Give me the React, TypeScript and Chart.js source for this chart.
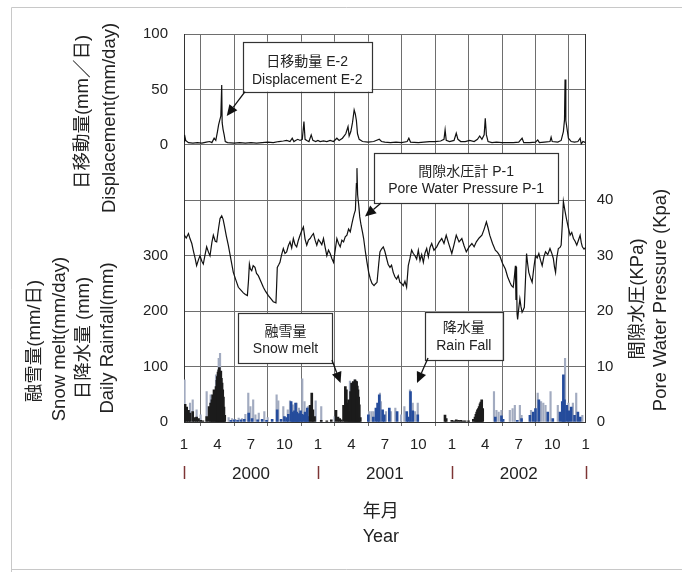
import React, { useEffect, useRef } from "react";
import { Chart, registerables } from "chart.js";

Chart.register(...registerables);

// ---------- data (x = months since 2000-01-01) ----------
const quarterLabels = ["1", "4", "7", "10"];
const yearLabels = ["2000", "2001", "2002"];
const leftTickLabels = ["0", "100", "200", "300", "", "0", "50", "100"];
const rightTickLabels = ["0", "10", "20", "30", "40", "", "", ""];

// Pore water pressure P-1 (kPa)
const pressure: [number, number][] = [
  [0, 33.8], [0.2, 33.2], [0.4, 34.0], [0.55, 33.0], [0.7, 32.2], [0.85, 30.8], [1.0, 29.5], [1.13, 28.2],
  [1.3, 29.3], [1.43, 30.0], [1.6, 29.0], [1.73, 28.5], [1.85, 29.8], [2.03, 31.6], [2.2, 30.6], [2.33, 30.0],
  [2.5, 32.4], [2.63, 33.7], [2.8, 32.6], [2.93, 32.5], [3.1, 35.0], [3.23, 36.7], [3.38, 37.2], [3.5, 36.6],
  [3.61, 35.5], [3.8, 33.5], [3.97, 31.9], [4.2, 29.4], [4.42, 27.0], [4.65, 25.6], [4.87, 24.3], [5.1, 23.8],
  [5.32, 23.3], [5.5, 23.0], [5.68, 22.8], [5.78, 25.5], [5.86, 28.5], [5.95, 27.6], [6.07, 27.3], [6.2, 28.2],
  [6.36, 27.9], [6.5, 26.8], [6.66, 26.4], [6.9, 25.3], [7.11, 24.3], [7.3, 23.6], [7.56, 22.8], [7.8, 22.2],
  [8.0, 21.7], [8.24, 21.5], [8.3, 24.5], [8.36, 27.9], [8.5, 28.4], [8.6, 28.8], [8.75, 30.2], [8.9, 31.3],
  [9.05, 30.4], [9.2, 30.7], [9.35, 31.8], [9.5, 32.5], [9.65, 31.4], [9.8, 33.1], [9.95, 32.0], [10.1, 31.6],
  [10.25, 32.8], [10.4, 33.7], [10.55, 34.5], [10.7, 35.2], [10.85, 33.0], [11.0, 31.9], [11.15, 32.8], [11.3, 33.1],
  [11.45, 33.6], [11.6, 34.0], [11.75, 32.8], [11.9, 31.9], [12.05, 32.9], [12.2, 32.5], [12.35, 32.0], [12.5, 33.1],
  [12.65, 31.5], [12.8, 30.0], [12.95, 31.0], [13.1, 30.4], [13.25, 29.5], [13.4, 28.8], [13.55, 31.0], [13.7, 33.1],
  [13.85, 32.2], [14.0, 31.6], [14.15, 32.8], [14.3, 32.5], [14.45, 33.4], [14.6, 33.7], [14.75, 34.8], [14.9, 34.3],
  [15.05, 35.8], [15.15, 36.7], [15.25, 37.5], [15.36, 38.2], [15.45, 43.0], [15.5, 45.8], [15.56, 41.0], [15.66, 39.1],
  [15.75, 37.0], [15.87, 35.5], [16.0, 34.2], [16.1, 33.1], [16.25, 30.8], [16.4, 28.8], [16.55, 27.0], [16.7, 25.8],
  [16.85, 25.0], [17.03, 24.6], [17.15, 24.9], [17.3, 25.2], [17.45, 28.5], [17.56, 30.7], [17.7, 31.2], [17.86, 31.6],
  [18.0, 30.8], [18.16, 29.5], [18.3, 28.4], [18.46, 27.9], [18.6, 28.3], [18.75, 27.0], [18.9, 26.2], [19.05, 25.8],
  [19.2, 26.4], [19.35, 25.2], [19.5, 25.0], [19.65, 24.6], [19.8, 25.4], [19.95, 24.3], [20.1, 28.2], [20.25, 29.5],
  [20.4, 31.0], [20.55, 30.4], [20.7, 30.0], [20.85, 29.4], [21.0, 31.0], [21.15, 29.1], [21.3, 30.2], [21.45, 28.8],
  [21.6, 30.5], [21.75, 31.3], [21.9, 29.8], [22.05, 31.5], [22.2, 32.2], [22.4, 31.0], [22.65, 31.6], [22.85, 32.4],
  [23.1, 33.1], [23.3, 32.2], [23.5, 33.7], [23.75, 32.0], [24.0, 30.4], [24.2, 32.0], [24.4, 33.7], [24.65, 32.5],
  [24.9, 33.1], [25.1, 31.8], [25.3, 30.7], [25.55, 31.6], [25.8, 32.2], [26.0, 31.6], [26.2, 32.5], [26.45, 33.2],
  [26.7, 33.7], [26.9, 34.8], [27.1, 36.1], [27.25, 35.0], [27.4, 33.7], [27.65, 32.2], [27.9, 31.0], [28.1, 30.6],
  [28.3, 30.0], [28.55, 28.6], [28.8, 27.6], [29.0, 26.2], [29.2, 25.2], [29.35, 24.6], [29.5, 24.3], [29.6, 26.0],
  [29.7, 28.2], [29.75, 22.0], [29.8, 28.0], [29.85, 19.5], [29.9, 18.5], [30.0, 20.5], [30.1, 22.2], [30.2, 20.8],
  [30.3, 19.8], [30.4, 20.2], [30.5, 20.7], [30.6, 25.5], [30.7, 30.4], [30.8, 28.5], [30.9, 27.0], [31.05, 26.0],
  [31.2, 25.2], [31.35, 27.8], [31.5, 30.0], [31.65, 29.6], [31.8, 30.4], [31.95, 29.2], [32.1, 28.2], [32.25, 29.8],
  [32.4, 30.7], [32.6, 30.2], [32.8, 31.3], [32.95, 30.5], [33.1, 29.5], [33.2, 28.0], [33.3, 27.0], [33.4, 29.5],
  [33.55, 31.3], [33.7, 31.5], [33.8, 31.9], [33.9, 35.5], [34.0, 39.8], [34.15, 38.0], [34.3, 36.4], [34.45, 35.0],
  [34.6, 33.7], [34.75, 34.2], [34.9, 33.1], [35.05, 32.6], [35.2, 31.9], [35.35, 32.8], [35.5, 33.7], [35.6, 32.4],
  [35.7, 31.6], [35.85, 31.2], [36.0, 31.5],
];

// Daily displacement E-2 (mm/day)
const displacement: [number, number][] = [
  [0, 3], [0.05, 9], [0.15, 4], [0.4, 2], [0.8, 1.5], [1.2, 2], [1.6, 1.5], [2.0, 2.5], [2.3, 3], [2.5, 2],
  [2.7, 6], [2.85, 4], [3.0, 12], [3.1, 18], [3.2, 22], [3.3, 26], [3.38, 54], [3.42, 20], [3.5, 14], [3.6, 9],
  [3.7, 3], [3.9, 2], [4.5, 1.5], [5.0, 2], [5.5, 1.5], [6.0, 2], [6.5, 1.5], [7.0, 2], [7.5, 2.5], [8.0, 2],
  [8.5, 3], [8.9, 3.5], [9.2, 4], [9.5, 3], [9.7, 6], [9.85, 3], [10.0, 4], [10.2, 5], [10.4, 4], [10.6, 5],
  [10.75, 21], [10.85, 5], [11.0, 4], [11.2, 3], [11.4, 9], [11.55, 4], [11.8, 3], [12.0, 4], [12.2, 3], [12.5, 3.5],
  [12.8, 3], [13.1, 4], [13.4, 3], [13.7, 6], [13.9, 4], [14.2, 6], [14.5, 10], [14.7, 16.5], [14.8, 8], [14.95, 12],
  [15.1, 20], [15.25, 31.5], [15.35, 28], [15.45, 22], [15.55, 10], [15.7, 5], [16.0, 3], [16.5, 2.5], [17.0, 3], [17.5, 5],
  [17.7, 3], [18.0, 2.5], [18.5, 2], [19.0, 2.5], [19.5, 2], [20.0, 3], [20.15, 6], [20.3, 2.5], [21.0, 2], [21.5, 2.5],
  [22.0, 3], [22.5, 3], [23.0, 3.5], [23.3, 5], [23.4, 13.5], [23.5, 4], [23.8, 3], [24.2, 4], [24.4, 10.5], [24.55, 5],
  [24.8, 3], [25.2, 3], [25.6, 4], [26.0, 3], [26.3, 5], [26.5, 8], [26.7, 5], [26.9, 9], [27.0, 24], [27.1, 9],
  [27.25, 3], [27.6, 2], [28.0, 2.5], [28.5, 2], [29.0, 2], [29.5, 2], [30.0, 2.5], [30.3, 6], [30.45, 2], [31.0, 2],
  [31.5, 2.5], [31.7, 4.5], [31.85, 2], [32.3, 2.5], [32.8, 3], [32.9, 7], [33.0, 3], [33.5, 2.5], [33.8, 4], [34.0, 12],
  [34.1, 22.5], [34.15, 59], [34.22, 22], [34.32, 15], [34.45, 6], [34.7, 3], [35.0, 2.5], [35.3, 3], [35.5, 6], [35.6, 1],
  [35.75, 3], [36, 2],
];

// Snow melt (mm/day)
const snowMelt: [number, number][] = [
  [0.02, 30], [0.1, 32], [0.24, 27], [0.4, 21], [0.54, 16], [0.78, 19], [0.95, 8], [1.13, 9], [1.3, 6], [1.5, 3],
  [1.7, 2], [2.03, 10], [2.25, 28], [2.39, 34], [2.5, 40], [2.57, 49], [2.69, 58], [2.78, 52], [2.87, 64], [2.95, 75],
  [2.99, 82], [3.05, 90], [3.11, 94], [3.17, 98], [3.23, 88], [3.3, 92], [3.35, 79], [3.41, 70], [3.47, 58], [3.53, 45],
  [3.58, 27], [3.65, 12],
  [11.3, 30], [11.45, 52], [11.55, 22], [11.7, 10],
  [12.3, 3], [12.8, 2], [13.2, 4], [13.62, 21], [13.8, 9], [13.95, 6], [14.1, 4], [14.3, 30], [14.46, 64], [14.55, 58],
  [14.67, 34], [14.75, 40], [14.84, 19], [14.93, 55], [15.02, 70], [15.1, 68], [15.17, 73], [15.25, 70], [15.32, 76], [15.4, 74],
  [15.47, 73], [15.53, 65], [15.59, 58], [15.65, 45], [15.71, 31], [15.8, 8],
  [23.39, 12.6], [23.5, 6],
  [24.0, 3], [24.2, 2], [24.4, 4], [24.6, 3], [24.8, 3], [25.0, 2], [25.2, 2], [25.5, 2], [25.93, 5], [26.08, 9],
  [26.16, 14], [26.23, 18], [26.3, 22], [26.38, 24], [26.45, 28], [26.53, 33], [26.6, 36], [26.68, 40], [26.77, 24],
];

// Daily rainfall (mm)
const rainfall: [number, number][] = [
  [4.2, 3], [4.5, 4], [4.8, 3], [5.1, 4], [5.4, 5], [5.8, 16], [6.1, 6], [6.6, 4], [7.0, 5], [7.4, 3],
  [7.9, 5], [8.35, 22], [8.7, 5], [9.0, 10], [9.2, 8], [9.35, 14], [9.6, 37], [9.7, 18], [9.8, 16], [9.9, 20],
  [10.0, 34], [10.1, 18], [10.2, 13], [10.3, 15], [10.45, 20], [10.55, 14], [10.7, 13], [10.85, 18], [10.95, 12], [11.05, 25],
  [11.2, 10],
  [16.52, 13], [16.97, 9], [17.2, 25], [17.35, 34], [17.5, 49], [17.8, 22], [17.95, 13], [18.4, 25], [19.1, 19], [19.96, 19],
  [20.1, 9], [20.3, 55], [20.5, 20], [20.95, 13],
  [27.9, 9], [28.45, 11], [28.6, 5], [29.87, 3], [30.25, 6], [31.0, 12], [31.3, 18], [31.5, 24], [31.8, 40], [32.6, 18],
  [33.05, 6], [33.7, 18], [33.9, 37], [34.0, 85], [34.1, 40], [34.3, 30], [34.5, 20], [34.7, 27], [35.0, 12], [35.3, 18],
  [35.5, 9],
];

// Total precipitation (mm), light bars
const precipitation: [number, number][] = [
  [0.05, 76], [0.54, 34], [0.78, 40], [1.13, 22], [1.49, 13], [2.03, 55], [2.39, 49], [2.87, 85], [3.11, 115], [3.23, 124],
  [4.0, 8], [4.3, 6], [4.6, 5], [4.9, 7], [5.2, 6], [5.5, 14], [5.76, 52], [5.95, 28], [6.2, 40], [6.4, 13],
  [6.7, 16], [7.2, 19], [7.5, 8], [8.3, 49], [8.45, 38], [8.9, 28], [9.3, 22], [9.5, 38], [9.75, 31], [10.1, 34],
  [10.3, 25], [10.6, 78], [10.8, 37], [11.1, 28], [11.8, 38], [12.3, 28],
  [13.5, 10], [14.87, 74], [15.32, 76], [16.6, 19], [16.8, 19], [16.97, 19], [17.56, 52], [17.65, 37], [18.1, 19], [18.55, 19],
  [18.94, 25], [19.45, 13], [19.75, 28], [20.25, 58], [20.5, 34], [20.7, 19], [20.95, 34],
  [27.78, 55], [28.0, 21], [28.2, 18], [28.45, 21], [29.2, 21], [29.45, 24], [29.65, 30], [30.1, 30], [30.25, 12], [31.1, 21],
  [31.7, 52], [32.0, 37], [32.2, 34], [32.4, 30], [32.85, 55], [33.5, 30], [34.15, 115], [34.45, 34], [34.85, 34], [35.15, 52],
  [35.7, 12],
];

// ---------- layout / style ----------
const W = 682;
const H = 573;
const PLOT = { left: 184, top: 34, right: 585.7, bottom: 422 };
const FONT = '"Liberation Sans", Arial, "Noto Sans CJK JP", sans-serif';
const INK = "#222";
const GRID = "#6e6e6e";

// annotation callouts: box corners in (month, left-axis units); arrow from -> tip
const callouts = [
  { lines: ["日移動量 E-2", "Displacement E-2"], x0: 5.26, x1: 16.82, y0: 686.1, y1: 595.9, ty: [649.3, 617.0], from: [5.47, 595.9], tip: [3.83, 552.2] },
  { lines: ["間隙水圧計 P-1", "Pore Water Pressure P-1"], x0: 17.03, x1: 33.54, y0: 485.3, y1: 395.1, ty: [450.1, 420.4], from: [17.66, 395.1], tip: [16.22, 370.8] },
  { lines: ["融雪量", "Snow melt"], x0: 4.87, x1: 13.33, y0: 196.1, y1: 105.9, ty: [162.9, 131.7], from: [13.26, 111.9], tip: [14.03, 70.4] },
  { lines: ["降水量", "Rain Fall"], x0: 21.6, x1: 28.56, y0: 199.0, y1: 111.9, ty: [169.6, 137.1], from: [21.87, 115.5], tip: [20.88, 70.4] },
];

const toXY = (arr: [number, number][]) => arr.map(([x, y]) => ({ x, y }));

function vtext(ctx: CanvasRenderingContext2D, text: string, x: number, y: number, size: number) {
  ctx.save();
  ctx.translate(x, y);
  ctx.rotate(-Math.PI / 2);
  ctx.font = `${size}px ${FONT}`;
  ctx.textAlign = "center";
  ctx.textBaseline = "middle";
  ctx.fillStyle = INK;
  ctx.fillText(text, 0, 0);
  ctx.restore();
}

function arrow(ctx: CanvasRenderingContext2D, x1: number, y1: number, x2: number, y2: number) {
  const ang = Math.atan2(y2 - y1, x2 - x1);
  const len = 11;
  const hw = 5;
  const bx = x2 - len * Math.cos(ang);
  const by = y2 - len * Math.sin(ang);
  ctx.save();
  ctx.strokeStyle = "#111";
  ctx.fillStyle = "#111";
  ctx.lineWidth = 1.3;
  ctx.beginPath();
  ctx.moveTo(x1, y1);
  ctx.lineTo(bx, by);
  ctx.stroke();
  ctx.beginPath();
  ctx.moveTo(x2, y2);
  ctx.lineTo(bx + hw * Math.sin(ang), by - hw * Math.cos(ang));
  ctx.lineTo(bx - hw * Math.sin(ang), by + hw * Math.cos(ang));
  ctx.closePath();
  ctx.fill();
  ctx.restore();
}

const decorPlugin = {
  id: "decor",
  afterDraw(chart: any) {
    const ctx: CanvasRenderingContext2D = chart.ctx;
    const xs = chart.scales.x;
    const ys = chart.scales.y;
    const area = chart.chartArea;

    // outer frame
    ctx.save();
    ctx.strokeStyle = "#c8c8c8";
    ctx.lineWidth = 1;
    ctx.beginPath();
    ctx.moveTo(11.5, 572);
    ctx.lineTo(11.5, 7.5);
    ctx.lineTo(W, 7.5);
    ctx.moveTo(11.5, 569.5);
    ctx.lineTo(W, 569.5);
    ctx.stroke();
    ctx.restore();

    // callouts
    for (const c of callouts) {
      const bx0 = xs.getPixelForValue(c.x0);
      const bx1 = xs.getPixelForValue(c.x1);
      const by0 = ys.getPixelForValue(c.y0);
      const by1 = ys.getPixelForValue(c.y1);
      ctx.save();
      ctx.fillStyle = "#fff";
      ctx.fillRect(bx0, by0, bx1 - bx0, by1 - by0);
      ctx.strokeStyle = "#333";
      ctx.lineWidth = 1.2;
      ctx.strokeRect(Math.round(bx0) + 0.5, Math.round(by0) + 0.5, Math.round(bx1 - bx0), Math.round(by1 - by0));
      ctx.fillStyle = INK;
      ctx.font = `14px ${FONT}`;
      ctx.textAlign = "center";
      ctx.textBaseline = "middle";
      const cx = (bx0 + bx1) / 2;
      c.lines.forEach((t, i) => ctx.fillText(t, cx, ys.getPixelForValue(c.ty[i])));
      ctx.restore();
      arrow(
        ctx,
        xs.getPixelForValue(c.from[0]),
        ys.getPixelForValue(c.from[1]),
        xs.getPixelForValue(c.tip[0]),
        ys.getPixelForValue(c.tip[1])
      );
    }

    // year separators + year labels
    ctx.save();
    ctx.strokeStyle = "#7d3434";
    ctx.lineWidth = 1.5;
    for (let m = 0; m <= 36; m += 12) {
      const px = Math.round(xs.getPixelForValue(m)) + 0.5;
      ctx.beginPath();
      ctx.moveTo(px, area.bottom + 44);
      ctx.lineTo(px, area.bottom + 57);
      ctx.stroke();
    }
    ctx.fillStyle = INK;
    ctx.font = `17px ${FONT}`;
    ctx.textAlign = "center";
    ctx.textBaseline = "middle";
    yearLabels.forEach((y, i) => ctx.fillText(y, xs.getPixelForValue(6 + 12 * i), area.bottom + 52));
    const midX = (area.left + area.right) / 2 - 4;
    ctx.font = `18px ${FONT}`;
    ctx.fillText("年月", midX, area.bottom + 90);
    ctx.fillText("Year", midX, area.bottom + 115);
    ctx.restore();

    // axis titles
    const tsize = 18.5;
    vtext(ctx, "日移動量(mm／日)", 83, 112, tsize);
    vtext(ctx, "Displacement(mm/day)", 110, 118, tsize);
    vtext(ctx, "融雪量(mm/日)", 35, 341, tsize);
    vtext(ctx, "Snow melt(mm/day)", 59.5, 339, tsize);
    vtext(ctx, "日降水量 (mm)", 84, 338, tsize);
    vtext(ctx, "Daily Rainfall(mm)", 107.5, 338, tsize);
    vtext(ctx, "間隙水圧(KPa)", 638, 299, tsize);
    vtext(ctx, "Pore Water Pressure (Kpa)", 661, 300, tsize);
  },
};

export default function App() {
  const ref = useRef<HTMLCanvasElement | null>(null);

  useEffect(() => {
    if (!ref.current) return;
    Chart.defaults.font.family = FONT;
    Chart.defaults.color = INK;

    const barCommon = { type: "bar" as const, yAxisID: "y", grouped: false, borderWidth: 0 };

    const chart = new Chart(ref.current, {
      type: "line",
      data: {
        datasets: [
          {
            type: "line",
            label: "Displacement E-2",
            data: toXY(displacement),
            yAxisID: "yD",
            borderColor: "#111",
            borderWidth: 1.2,
            pointRadius: 0,
            tension: 0,
            order: 0,
          },
          {
            type: "line",
            label: "Pore Water Pressure P-1",
            data: toXY(pressure),
            yAxisID: "y2",
            borderColor: "#111",
            borderWidth: 1.2,
            pointRadius: 0,
            tension: 0,
            order: 0,
          },
          { ...barCommon, label: "Snow melt", data: toXY(snowMelt), backgroundColor: "#1c1c1c", barThickness: 2, order: 1 },
          { ...barCommon, label: "Rain fall", data: toXY(rainfall), backgroundColor: "#254c9c", barThickness: 2, order: 2 },
          { ...barCommon, label: "Precipitation", data: toXY(precipitation), backgroundColor: "#a2abc0", barThickness: 1.5, order: 3 },
        ] as any,
      },
      options: {
        responsive: false,
        animation: false,
        layout: { padding: { top: PLOT.top, left: 0, right: 0, bottom: 0 } },
        plugins: { legend: { display: false }, tooltip: { enabled: false } },
        scales: {
          x: {
            type: "linear",
            min: 0,
            max: 36,
            offset: false,
            grid: { color: GRID, lineWidth: 1, drawTicks: true, tickLength: 4 },
            border: { color: "#333" },
            ticks: {
              stepSize: 3,
              autoSkip: false,
              maxRotation: 0,
              padding: 10,
              color: INK,
              font: { size: 15 },
              callback: (_v: any, i: number) => quarterLabels[i % 4],
            },
            afterFit: (s: any) => {
              s.height = H - PLOT.bottom;
            },
          },
          y: {
            position: "left",
            min: 0,
            max: 700,
            grid: { color: GRID, lineWidth: 1, drawTicks: false },
            border: { color: "#333" },
            ticks: {
              stepSize: 100,
              padding: 16,
              color: INK,
              font: { size: 15 },
              callback: (_v: any, i: number) => leftTickLabels[i],
            },
            afterFit: (s: any) => {
              s.width = PLOT.left;
            },
          },
          y2: {
            position: "right",
            min: 0,
            max: 70,
            grid: { display: false, drawTicks: false },
            border: { display: true, color: "#333" },
            ticks: {
              stepSize: 10,
              padding: 11,
              color: INK,
              font: { size: 15 },
              callback: (_v: any, i: number) => rightTickLabels[i],
            },
            afterFit: (s: any) => {
              s.width = W - PLOT.right;
            },
          },
          yD: { display: false, min: -250, max: 100 },
        },
      } as any,
      plugins: [decorPlugin],
    });

    return () => chart.destroy();
  }, []);

  return (
    <div style={{ position: "absolute", left: 0, top: 0, width: W, height: H, background: "#fff" }}>
      <canvas ref={ref} width={W} height={H} style={{ display: "block" }} />
    </div>
  );
}
